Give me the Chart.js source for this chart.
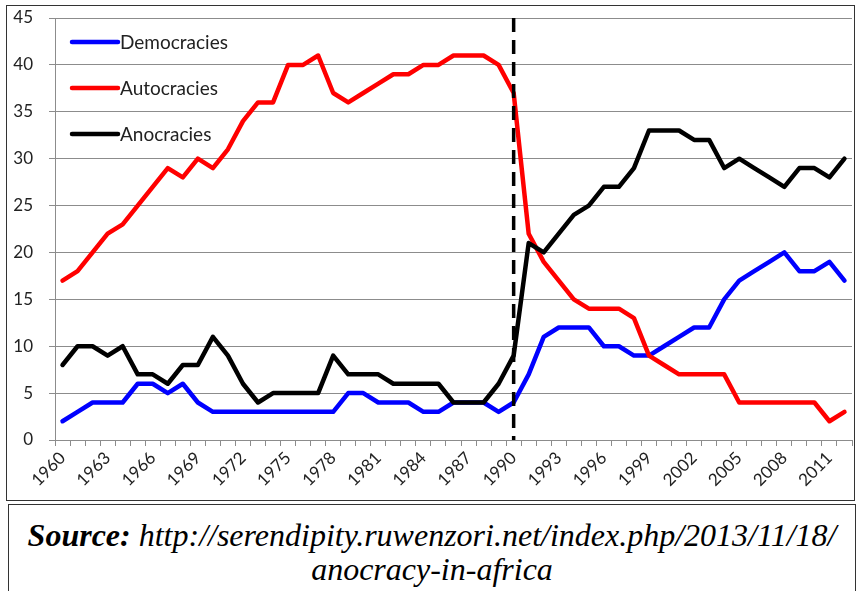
<!DOCTYPE html>
<html>
<head>
<meta charset="utf-8">
<script src="https://cdn.jsdelivr.net/npm/chart.js@4.4.1/dist/chart.umd.min.js"></script>
<style>
  body { margin: 0; background: #fff; width: 859px; height: 591px; overflow: hidden; position: relative; }
  #chartBox { position: absolute; left: 6px; top: 5px; width: 847px; height: 494px; border: 1px solid #333; }
  #sourceBox {
    position: absolute; left: 8px; top: 504px; width: 846px; height: 100px;
    border: 1px solid #333; text-align: center;
    font-family: "Liberation Serif", "Times New Roman", serif; font-style: italic;
    font-size: 32px; line-height: 34px; padding-top: 13px; color: #000;
    box-sizing: content-box;
  }
  #sourceBox b { font-weight: bold; }
</style>
</head>
<body>
<div id="chartBox"><canvas id="chart" width="847" height="494"></canvas></div>
<div id="sourceBox"><b>Source:</b> http://serendipity.ruwenzori.net/index.php/2013/11/18/<br>anocracy-in-africa</div>
<script>
// Years on the category axis
const years = [
  '1960', '1961', '1962', '1963', '1964', '1965', '1966', '1967', '1968', '1969',
  '1970', '1971', '1972', '1973', '1974', '1975', '1976', '1977', '1978', '1979',
  '1980', '1981', '1982', '1983', '1984', '1985', '1986', '1987', '1988', '1989',
  '1990', '1991', '1992', '1993', '1994', '1995', '1996', '1997', '1998', '1999',
  '2000', '2001', '2002', '2003', '2004', '2005', '2006', '2007', '2008', '2009',
  '2010', '2011', '2012'
];

// Only every third year gets a label
const tickLabels = [
  '1960', '1963', '1966', '1969', '1972', '1975', '1978', '1981', '1984', '1987',
  '1990', '1993', '1996', '1999', '2002', '2005', '2008', '2011'
];

const democracies = [
  2, 3, 4, 4, 4, 6, 6, 5, 6, 4,
  3, 3, 3, 3, 3, 3, 3, 3, 3, 5,
  5, 4, 4, 4, 3, 3, 4, 4, 4, 3,
  4, 7, 11, 12, 12, 12, 10, 10, 9, 9,
  10, 11, 12, 12, 15, 17, 18, 19, 20, 18,
  18, 19, 17
];

const autocracies = [
  17, 18, 20, 22, 23, 25, 27, 29, 28, 30,
  29, 31, 34, 36, 36, 40, 40, 41, 37, 36,
  37, 38, 39, 39, 40, 40, 41, 41, 41, 40,
  37, 22, 19, 17, 15, 14, 14, 14, 13, 9,
  8, 7, 7, 7, 7, 4, 4, 4, 4, 4,
  4, 2, 3
];

const anocracies = [
  8, 10, 10, 9, 10, 7, 7, 6, 8, 8,
  11, 9, 6, 4, 5, 5, 5, 5, 9, 7,
  7, 7, 6, 6, 6, 6, 4, 4, 4, 6,
  9, 21, 20, 22, 24, 25, 27, 27, 29, 33,
  33, 33, 32, 32, 29, 30, 29, 28, 27, 29,
  29, 28, 30
];

const dividerYear = '1990';

const FONT = 'Lato';
const TEXT_COLOR = '#222';
const GRID_COLOR = '#8c8c8c';

// Vertical dashed marker at the divider year
const dividerLine = {
  id: 'dividerLine',
  afterDatasetsDraw(chart) {
    const { ctx, chartArea, scales } = chart;
    const x = scales.x.getPixelForValue(years.indexOf(dividerYear));
    ctx.save();
    ctx.strokeStyle = '#000';
    ctx.lineWidth = 3.5;
    ctx.setLineDash([14, 8]);
    ctx.beginPath();
    ctx.moveTo(x, chartArea.top);
    ctx.lineTo(x, chartArea.bottom);
    ctx.stroke();
    ctx.restore();
  }
};

// Legend drawn inside the plot, stacked top-left like the original
const insideLegend = {
  id: 'insideLegend',
  afterDraw(chart) {
    const { ctx, chartArea } = chart;
    ctx.save();
    ctx.font = `19px ${FONT}`;
    ctx.textBaseline = 'middle';
    chart.data.datasets.forEach((ds, i) => {
      const y = chartArea.top + 24 + i * 46;
      const x0 = chartArea.left + 17;
      ctx.strokeStyle = ds.borderColor;
      ctx.lineWidth = 4.5;
      ctx.lineCap = 'round';
      ctx.beginPath();
      ctx.moveTo(x0, y);
      ctx.lineTo(x0 + 46, y);
      ctx.stroke();
      ctx.fillStyle = TEXT_COLOR;
      ctx.fillText(ds.label, x0 + 48, y + 1);
    });
    ctx.restore();
  }
};

function lineDataset(label, data, color, order) {
  return {
    label,
    data,
    borderColor: color,
    backgroundColor: color,
    borderWidth: 4.5,
    pointRadius: 0,
    tension: 0,
    fill: false,
    borderJoinStyle: 'round',
    borderCapStyle: 'round',
    order
  };
}

const ctx = document.getElementById('chart').getContext('2d');
new Chart(ctx, {
  type: 'line',
  data: {
    labels: years,
    datasets: [
      lineDataset('Democracies', democracies, '#0000ff', 2),
      lineDataset('Autocracies', autocracies, '#ff0000', 1),
      lineDataset('Anocracies', anocracies, '#000000', 0)
    ]
  },
  options: {
    responsive: false,
    animation: false,
    layout: { padding: { top: 12, right: 2, left: 0, bottom: 0 } },
    plugins: {
      legend: { display: false },
      tooltip: { enabled: false }
    },
    scales: {
      x: {
        offset: true,
        grid: { offset: true, drawOnChartArea: false, drawTicks: true, tickLength: 6, color: GRID_COLOR },
        border: { color: GRID_COLOR, width: 1 },
        ticks: {
          autoSkip: false,
          maxRotation: 45,
          minRotation: 45,
          padding: 2,
          color: TEXT_COLOR,
          font: { family: FONT, size: 17 },
          callback: (value, i) => tickLabels.includes(years[i]) ? years[i] : ''
        },
        afterFit: (scale) => {
          scale.height = 60;
          scale.paddingLeft = 0;
          scale.paddingRight = 0;
        }
      },
      y: {
        min: 0,
        max: 45,
        grid: { color: GRID_COLOR, tickLength: 6 },
        border: { color: GRID_COLOR, width: 1 },
        ticks: {
          stepSize: 5,
          padding: 16,
          color: TEXT_COLOR,
          font: { family: FONT, size: 17 }
        },
        afterFit: (scale) => {
          scale.width = 48;
          scale.paddingTop = 0;
          scale.paddingBottom = 0;
        }
      }
    }
  },
  plugins: [dividerLine, insideLegend]
});
</script>
</body>
</html>
